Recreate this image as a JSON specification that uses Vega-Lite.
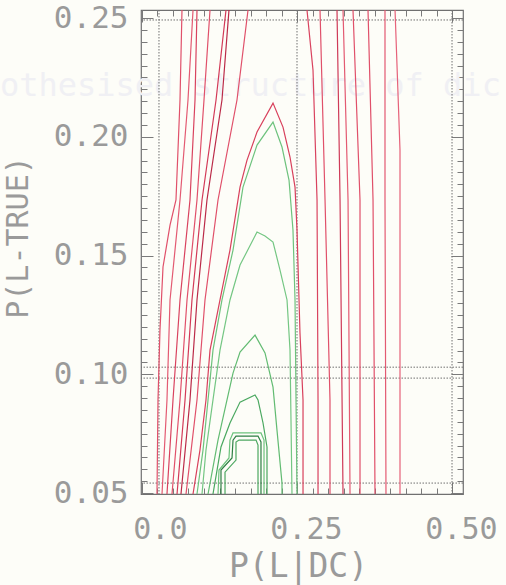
{
"$schema": "https://vega.github.io/schema/vega-lite/v6.json",
"width": 322, "height": 484,
"autosize": "none",
"padding": {"left": 141, "top": 10, "right": 43, "bottom": 91},
"background": "#fdfdf8",
"config": {
 "view": {"stroke": "#707070", "strokeWidth": 1.2},
 "axis": {"domain": false, "grid": false, "tickColor": "#7a7a7a", "tickWidth": 1, "labelFont": "DejaVu Sans Mono", "labelColor": "#9a9a9a", "titleFont": "DejaVu Sans Mono", "titleColor": "#9a9a9a", "titleFontWeight": "normal", "labelFlush": false, "labelOverlap": false, "labelBound": false},
 "line": {"strokeWidth": 1.2}
},
"datasets": {
 "ghost": [{"x": -0.229, "y": 0.2214, "t": "othesised structure of dic"}],
 "vrules": [{"x": 0.0274}, {"x": 0.25}, {"x": 0.5}],
 "hrules": [{"y": 0.2492}, {"y": 0.1030}, {"y": 0.0984}, {"y": 0.0542}],
 "lred": [
  {"id":"L1","i":0,"x":0.0242,"y":0.0496},{"id":"L1","i":1,"x":0.0258,"y":0.0892},{"id":"L1","i":2,"x":0.0290,"y":0.1186},{"id":"L1","i":3,"x":0.0339,"y":0.1452},{"id":"L1","i":4,"x":0.0452,"y":0.1628},{"id":"L1","i":5,"x":0.0548,"y":0.1734},{"id":"L1","i":6,"x":0.0613,"y":0.2155},{"id":"L1","i":7,"x":0.0645,"y":0.2534},
  {"id":"L2","i":0,"x":0.0323,"y":0.0496},{"id":"L2","i":1,"x":0.0403,"y":0.0892},{"id":"L2","i":2,"x":0.0452,"y":0.1313},{"id":"L2","i":3,"x":0.0613,"y":0.1734},{"id":"L2","i":4,"x":0.0742,"y":0.2155},{"id":"L2","i":5,"x":0.0823,"y":0.2534},
  {"id":"L3","i":0,"x":0.0403,"y":0.0496},{"id":"L3","i":1,"x":0.0500,"y":0.0892},{"id":"L3","i":2,"x":0.0613,"y":0.1313},{"id":"L3","i":3,"x":0.0774,"y":0.1734},{"id":"L3","i":4,"x":0.0855,"y":0.2155},{"id":"L3","i":5,"x":0.0887,"y":0.2534},
  {"id":"L4","i":0,"x":0.0484,"y":0.0496},{"id":"L4","i":1,"x":0.0613,"y":0.0892},{"id":"L4","i":2,"x":0.0726,"y":0.1313},{"id":"L4","i":3,"x":0.0887,"y":0.1734},{"id":"L4","i":4,"x":0.1000,"y":0.2155},{"id":"L4","i":5,"x":0.1097,"y":0.2534},
  {"id":"L5","i":0,"x":0.0565,"y":0.0496},{"id":"L5","i":1,"x":0.0694,"y":0.0892},{"id":"L5","i":2,"x":0.0806,"y":0.1313},{"id":"L5","i":3,"x":0.0968,"y":0.1734},{"id":"L5","i":4,"x":0.1194,"y":0.2155},{"id":"L5","i":5,"x":0.1355,"y":0.2534},
  {"id":"L6","i":0,"x":0.0629,"y":0.0496},{"id":"L6","i":1,"x":0.0774,"y":0.0892},{"id":"L6","i":2,"x":0.0887,"y":0.1313},{"id":"L6","i":3,"x":0.1048,"y":0.1734},{"id":"L6","i":4,"x":0.1290,"y":0.2155},{"id":"L6","i":5,"x":0.1403,"y":0.2534},
  {"id":"L7","i":0,"x":0.0710,"y":0.0496},{"id":"L7","i":1,"x":0.0887,"y":0.0892},{"id":"L7","i":2,"x":0.1016,"y":0.1313},{"id":"L7","i":3,"x":0.1226,"y":0.1734},{"id":"L7","i":4,"x":0.1532,"y":0.2155},{"id":"L7","i":5,"x":0.1710,"y":0.2534},
  {"id":"P","i":0,"x":0.0823,"y":0.0496},{"id":"P","i":1,"x":0.0935,"y":0.0681},{"id":"P","i":2,"x":0.1032,"y":0.0892},{"id":"P","i":3,"x":0.1097,"y":0.1102},{"id":"P","i":4,"x":0.1258,"y":0.1313},{"id":"P","i":5,"x":0.1419,"y":0.1523},{"id":"P","i":6,"x":0.1581,"y":0.1788},{"id":"P","i":7,"x":0.1694,"y":0.1902},{"id":"P","i":8,"x":0.1855,"y":0.2020},{"id":"P","i":9,"x":0.2113,"y":0.2142},{"id":"P","i":10,"x":0.2274,"y":0.2041},{"id":"P","i":11,"x":0.2387,"y":0.1915},{"id":"P","i":12,"x":0.2468,"y":0.1788},{"id":"P","i":13,"x":0.2500,"y":0.1607},{"id":"P","i":14,"x":0.2548,"y":0.1174},{"id":"P","i":15,"x":0.2597,"y":0.0892},{"id":"P","i":16,"x":0.2597,"y":0.0496}
 ],
 "rred": [
  {"id":"R1","i":0,"x":0.2661,"y":0.2534},{"id":"R1","i":1,"x":0.2758,"y":0.2281},{"id":"R1","i":2,"x":0.2823,"y":0.1734},{"id":"R1","i":3,"x":0.2839,"y":0.0892},{"id":"R1","i":4,"x":0.2839,"y":0.0496},
  {"id":"R2","i":0,"x":0.2871,"y":0.2534},{"id":"R2","i":1,"x":0.2952,"y":0.1734},{"id":"R2","i":2,"x":0.3032,"y":0.0892},{"id":"R2","i":3,"x":0.3032,"y":0.0496},
  {"id":"R3","i":0,"x":0.3145,"y":0.2534},{"id":"R3","i":1,"x":0.3194,"y":0.1734},{"id":"R3","i":2,"x":0.3242,"y":0.0496},
  {"id":"R4","i":0,"x":0.3242,"y":0.2534},{"id":"R4","i":1,"x":0.3323,"y":0.1734},{"id":"R4","i":2,"x":0.3355,"y":0.0496},
  {"id":"R5","i":0,"x":0.3403,"y":0.2534},{"id":"R5","i":1,"x":0.3516,"y":0.1734},{"id":"R5","i":2,"x":0.3516,"y":0.0496},
  {"id":"R6","i":0,"x":0.3645,"y":0.2534},{"id":"R6","i":1,"x":0.3726,"y":0.1734},{"id":"R6","i":2,"x":0.3758,"y":0.0496},
  {"id":"R7","i":0,"x":0.3919,"y":0.2534},{"id":"R7","i":1,"x":0.3919,"y":0.1734},{"id":"R7","i":2,"x":0.3935,"y":0.0496},
  {"id":"R8","i":0,"x":0.4081,"y":0.2534},{"id":"R8","i":1,"x":0.4161,"y":0.1944},{"id":"R8","i":2,"x":0.4161,"y":0.0496}
 ],
 "green": [
  {"id":"G1","i":0,"x":0.0887,"y":0.0496},{"id":"G1","i":1,"x":0.0984,"y":0.0681},{"id":"G1","i":2,"x":0.1065,"y":0.0892},{"id":"G1","i":3,"x":0.1145,"y":0.1102},{"id":"G1","i":4,"x":0.1290,"y":0.1313},{"id":"G1","i":5,"x":0.1468,"y":0.1523},{"id":"G1","i":6,"x":0.1629,"y":0.1788},{"id":"G1","i":7,"x":0.1855,"y":0.1965},{"id":"G1","i":8,"x":0.2113,"y":0.2062},{"id":"G1","i":9,"x":0.2258,"y":0.1957},{"id":"G1","i":10,"x":0.2371,"y":0.1818},{"id":"G1","i":11,"x":0.2435,"y":0.1607},{"id":"G1","i":12,"x":0.2468,"y":0.1313},{"id":"G1","i":13,"x":0.2484,"y":0.0892},{"id":"G1","i":14,"x":0.2500,"y":0.0496},
  {"id":"G2","i":0,"x":0.0968,"y":0.0496},{"id":"G2","i":1,"x":0.1032,"y":0.0681},{"id":"G2","i":2,"x":0.1145,"y":0.0892},{"id":"G2","i":3,"x":0.1258,"y":0.1102},{"id":"G2","i":4,"x":0.1419,"y":0.1313},{"id":"G2","i":5,"x":0.1581,"y":0.1460},{"id":"G2","i":6,"x":0.1855,"y":0.1599},{"id":"G2","i":7,"x":0.1984,"y":0.1582},{"id":"G2","i":8,"x":0.2113,"y":0.1557},{"id":"G2","i":9,"x":0.2226,"y":0.1439},{"id":"G2","i":10,"x":0.2339,"y":0.1313},{"id":"G2","i":11,"x":0.2387,"y":0.1102},{"id":"G2","i":12,"x":0.2403,"y":0.0807},{"id":"G2","i":13,"x":0.2419,"y":0.0496},
  {"id":"G3","i":0,"x":0.1065,"y":0.0496},{"id":"G3","i":1,"x":0.1226,"y":0.0723},{"id":"G3","i":2,"x":0.1371,"y":0.0892},{"id":"G3","i":3,"x":0.1468,"y":0.1005},{"id":"G3","i":4,"x":0.1581,"y":0.1094},{"id":"G3","i":5,"x":0.1823,"y":0.1165},{"id":"G3","i":6,"x":0.1984,"y":0.1090},{"id":"G3","i":7,"x":0.2113,"y":0.0946},{"id":"G3","i":8,"x":0.2177,"y":0.0765},{"id":"G3","i":9,"x":0.2258,"y":0.0542},{"id":"G3","i":10,"x":0.2258,"y":0.0496},
  {"id":"G4","i":0,"x":0.1145,"y":0.0496},{"id":"G4","i":1,"x":0.1274,"y":0.0694},{"id":"G4","i":2,"x":0.1419,"y":0.0795},{"id":"G4","i":3,"x":0.1581,"y":0.0883},{"id":"G4","i":4,"x":0.1823,"y":0.0913},{"id":"G4","i":5,"x":0.1871,"y":0.0892},{"id":"G4","i":6,"x":0.1952,"y":0.0795},{"id":"G4","i":7,"x":0.2016,"y":0.0694},{"id":"G4","i":8,"x":0.2016,"y":0.0496},
  {"id":"G5a","i":0,"x":0.1226,"y":0.0496},{"id":"G5a","i":1,"x":0.1242,"y":0.0597},{"id":"G5a","i":2,"x":0.1403,"y":0.0648},{"id":"G5a","i":3,"x":0.1419,"y":0.0723},{"id":"G5a","i":4,"x":0.1468,"y":0.0753},{"id":"G5a","i":5,"x":0.1919,"y":0.0753},{"id":"G5a","i":6,"x":0.1968,"y":0.0723},{"id":"G5a","i":7,"x":0.1968,"y":0.0496},
  {"id":"G5b","i":0,"x":0.1274,"y":0.0496},{"id":"G5b","i":1,"x":0.1274,"y":0.0597},{"id":"G5b","i":2,"x":0.1452,"y":0.0648},{"id":"G5b","i":3,"x":0.1468,"y":0.0723},{"id":"G5b","i":4,"x":0.1516,"y":0.0740},{"id":"G5b","i":5,"x":0.1871,"y":0.0740},{"id":"G5b","i":6,"x":0.1919,"y":0.0715},{"id":"G5b","i":7,"x":0.1919,"y":0.0496},
  {"id":"G5c","i":0,"x":0.1339,"y":0.0496},{"id":"G5c","i":1,"x":0.1339,"y":0.0588},{"id":"G5c","i":2,"x":0.1516,"y":0.0639},{"id":"G5c","i":3,"x":0.1516,"y":0.0715},{"id":"G5c","i":4,"x":0.1565,"y":0.0723},{"id":"G5c","i":5,"x":0.1839,"y":0.0723},{"id":"G5c","i":6,"x":0.1871,"y":0.0702},{"id":"G5c","i":7,"x":0.1871,"y":0.0496}
 ]
},
"resolve": {"axis": {"x": "independent", "y": "independent"}},
"layer": [
 {
  "data": {"name": "ghost"},
  "mark": {"type": "text", "font": "DejaVu Sans Mono", "fontSize": 32, "color": "#f0f0f4", "align": "left", "baseline": "middle"},
  "encoding": {
   "x": {"field": "x", "type": "quantitative", "scale": {"domain": [-0.0016, 0.5177], "nice": false, "zero": false}, "axis": {"orient": "top", "values": [0, 0.25, 0.5], "labels": false, "tickSize": -12, "title": null}},
   "y": {"field": "y", "type": "quantitative", "scale": {"domain": [0.0496, 0.2534], "nice": false, "zero": false}, "axis": {"orient": "right", "values": [0.05, 0.1, 0.15, 0.2, 0.25], "labels": false, "tickSize": -12, "title": null}},
   "text": {"field": "t"}
  }
 },
 {
  "data": {"name": "vrules"},
  "mark": {"type": "rule", "color": "#707070", "strokeDash": [1.5, 1.5], "strokeWidth": 1},
  "encoding": {
   "x": {"field": "x", "type": "quantitative", "scale": {"domain": [-0.0016, 0.5177], "nice": false, "zero": false}, "axis": {"orient": "top", "values": [0,0.025,0.05,0.075,0.1,0.125,0.15,0.175,0.2,0.225,0.25,0.275,0.3,0.325,0.35,0.375,0.4,0.425,0.45,0.475,0.5], "labels": false, "tickSize": -6, "title": null}}
  }
 },
 {
  "data": {"name": "hrules"},
  "mark": {"type": "rule", "color": "#707070", "strokeDash": [1.5, 1.5], "strokeWidth": 1},
  "encoding": {
   "y": {"field": "y", "type": "quantitative", "scale": {"domain": [0.0496, 0.2534], "nice": false, "zero": false}, "axis": {"orient": "right", "values": [0.05,0.055,0.06,0.065,0.07,0.075,0.08,0.085,0.09,0.095,0.1,0.105,0.11,0.115,0.12,0.125,0.13,0.135,0.14,0.145,0.15,0.155,0.16,0.165,0.17,0.175,0.18,0.185,0.19,0.195,0.2,0.205,0.21,0.215,0.22,0.225,0.23,0.235,0.24,0.245,0.25], "labels": false, "tickSize": -6, "title": null}}
  }
 },
 {
  "data": {"name": "lred"},
  "mark": {"type": "line", "clip": true, "strokeWidth": 1.2},
  "encoding": {
   "x": {"field": "x", "type": "quantitative", "scale": {"domain": [-0.0016, 0.5177], "nice": false, "zero": false}, "axis": {"orient": "bottom", "values": [0, 0.25, 0.5], "ticks": false, "labelExpr": "datum.value == 0 ? '0.0' : format(datum.value, '.2f')", "labelAlign": "right", "labelOffset": 45, "labelPadding": 20, "labelBaseline": "top", "labelFontSize": 30, "title": "P(L|DC)", "titleFontSize": 33, "titleX": 157, "titleY": 72, "titleBaseline": "middle", "titleAlign": "center"}},
   "y": {"field": "y", "type": "quantitative", "scale": {"domain": [0.0496, 0.2534], "nice": false, "zero": false}, "axis": {"orient": "left", "values": [0.05, 0.1, 0.15, 0.2, 0.25], "ticks": false, "labelExpr": "format(datum.value, '.2f')", "labelPadding": 13, "labelFontSize": 31, "title": "P(L-TRUE)", "titleFontSize": 30, "titleX": -123, "titleY": 227, "titleAngle": -90, "titleBaseline": "middle", "titleAlign": "center"}},
   "color": {"field": "id", "type": "nominal", "legend": null, "scale": {"domain": ["L1","L2","L3","L4","L5","L6","L7","P","R1","R2","R3","R4","R5","R6","R7","R8","G1","G2","G3","G4","G5a","G5b","G5c"], "range": ["#e0506a","#e35a72","#d9435f","#e0506a","#d33a58","#bb2a48","#e0506a","#d8405c","#d9435f","#e0506a","#cf3a58","#e35a72","#e0506a","#e0506a","#e35a72","#e6627a","#6dc27d","#74c683","#62bb72","#4aa860","#6cc27c","#2d7f43","#4ea862"]}},
   "order": {"field": "i", "type": "quantitative"}
  }
 },
 {
  "data": {"name": "rred"},
  "mark": {"type": "line", "clip": true, "strokeWidth": 1.2},
  "encoding": {
   "x": {"field": "x", "type": "quantitative", "scale": {"domain": [-0.0016, 0.5177], "nice": false, "zero": false}, "axis": {"orient": "bottom", "values": [0,0.025,0.05,0.075,0.1,0.125,0.15,0.175,0.2,0.225,0.25,0.275,0.3,0.325,0.35,0.375,0.4,0.425,0.45,0.475,0.5], "labels": false, "tickSize": -6, "title": null}},
   "y": {"field": "y", "type": "quantitative", "scale": {"domain": [0.0496, 0.2534], "nice": false, "zero": false}, "axis": {"orient": "left", "values": [0.05,0.055,0.06,0.065,0.07,0.075,0.08,0.085,0.09,0.095,0.1,0.105,0.11,0.115,0.12,0.125,0.13,0.135,0.14,0.145,0.15,0.155,0.16,0.165,0.17,0.175,0.18,0.185,0.19,0.195,0.2,0.205,0.21,0.215,0.22,0.225,0.23,0.235,0.24,0.245,0.25], "labels": false, "tickSize": -6, "title": null}},
   "color": {"field": "id", "type": "nominal", "legend": null, "scale": {"domain": ["L1","L2","L3","L4","L5","L6","L7","P","R1","R2","R3","R4","R5","R6","R7","R8","G1","G2","G3","G4","G5a","G5b","G5c"], "range": ["#e0506a","#e35a72","#d9435f","#e0506a","#d33a58","#bb2a48","#e0506a","#d8405c","#d9435f","#e0506a","#cf3a58","#e35a72","#e0506a","#e0506a","#e35a72","#e6627a","#6dc27d","#74c683","#62bb72","#4aa860","#6cc27c","#2d7f43","#4ea862"]}},
   "order": {"field": "i", "type": "quantitative"}
  }
 },
 {
  "data": {"name": "green"},
  "mark": {"type": "line", "clip": true, "strokeWidth": 1.2},
  "encoding": {
   "x": {"field": "x", "type": "quantitative", "scale": {"domain": [-0.0016, 0.5177], "nice": false, "zero": false}, "axis": {"orient": "bottom", "values": [0, 0.25, 0.5], "labels": false, "tickSize": -12, "title": null}},
   "y": {"field": "y", "type": "quantitative", "scale": {"domain": [0.0496, 0.2534], "nice": false, "zero": false}, "axis": {"orient": "left", "values": [0.05, 0.1, 0.15, 0.2, 0.25], "labels": false, "tickSize": -12, "title": null}},
   "color": {"field": "id", "type": "nominal", "legend": null, "scale": {"domain": ["L1","L2","L3","L4","L5","L6","L7","P","R1","R2","R3","R4","R5","R6","R7","R8","G1","G2","G3","G4","G5a","G5b","G5c"], "range": ["#e0506a","#e35a72","#d9435f","#e0506a","#d33a58","#bb2a48","#e0506a","#d8405c","#d9435f","#e0506a","#cf3a58","#e35a72","#e0506a","#e0506a","#e35a72","#e6627a","#6dc27d","#74c683","#62bb72","#4aa860","#6cc27c","#2d7f43","#4ea862"]}},
   "order": {"field": "i", "type": "quantitative"}
  }
 }
]
}
